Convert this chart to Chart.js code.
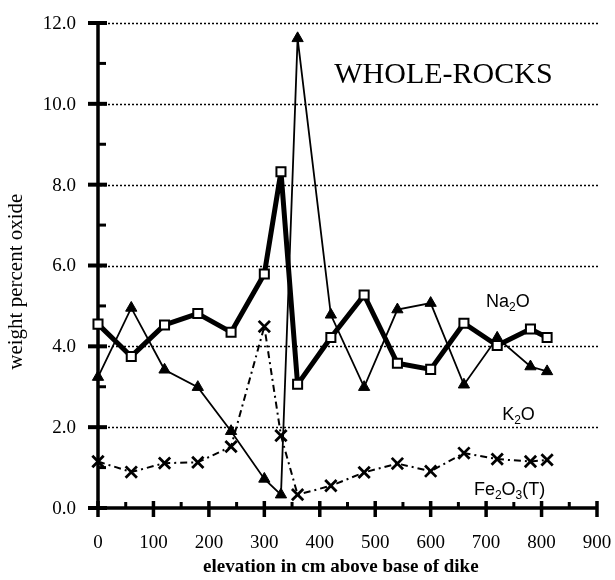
<!DOCTYPE html>
<html>
<head>
<meta charset="utf-8">
<script src="https://cdn.jsdelivr.net/npm/chart.js@4.4.1/dist/chart.umd.min.js"></script>
<style>
  html, body { margin: 0; padding: 0; background: #fff; }
  canvas { display: block; }
</style>
</head>
<body>
<canvas id="wholeRocksChart" width="615" height="580"></canvas>
<script>
// elevation in cm above base of dike
const elevation = [0, 60, 120, 180, 240, 300, 330, 360, 420, 480, 540, 600, 660, 720, 780, 810];
// weight percent oxide
const na2o  = [4.55, 3.75, 4.53, 4.81, 4.35, 5.79, 8.32, 3.06, 4.22, 5.27, 3.58, 3.43, 4.57, 4.02, 4.43, 4.22];
const k2o   = [3.24, 4.95, 3.42, 2.99, 1.90, 0.72, 0.33, 11.62, 4.78, 2.99, 4.91, 5.07, 3.05, 4.21, 3.50, 3.38];
const fe2o3 = [1.15, 0.89, 1.11, 1.13, 1.52, 4.49, 1.79, 0.33, 0.55, 0.88, 1.10, 0.91, 1.36, 1.21, 1.15, 1.19];

const yTicks = [0, 2, 4, 6, 8, 10, 12];
const xTicks = [0, 100, 200, 300, 400, 500, 600, 700, 800, 900];

const SERIF = '"Liberation Serif", "Times New Roman", serif';
const SANS = '"Liberation Sans", Arial, sans-serif';

const points = (vals) => elevation.map((e, i) => ({ x: e, y: vals[i] }));

// axes with ticks crossing the line, dotted grid, tick labels and titles
const axesPlugin = {
    id: 'axesPlugin',
    beforeDatasetsDraw(chart) {
        const ctx = chart.ctx;
        const { x, y } = chart.scales;
        const area = chart.chartArea;
        ctx.save();
        ctx.strokeStyle = '#000';
        ctx.fillStyle = '#000';

        // dotted grid
        ctx.lineWidth = 1.5;
        ctx.setLineDash([2, 2]);
        yTicks.filter(v => v > 0).forEach(v => {
            const py = Math.round(y.getPixelForValue(v)) + 0.5;
            ctx.beginPath();
            ctx.moveTo(area.left + 2, py);
            ctx.lineTo(area.right + 1, py);
            ctx.stroke();
        });
        ctx.setLineDash([]);

        const x0 = x.getPixelForValue(0);
        const y0 = y.getPixelForValue(0);

        // axis lines
        ctx.lineWidth = 3.5;
        ctx.beginPath();
        ctx.moveTo(x0, y.getPixelForValue(12));
        ctx.lineTo(x0, y0);
        ctx.lineTo(x.getPixelForValue(900), y0);
        ctx.stroke();

        // y ticks
        for (let v = 0; v <= 12; v++) {
            const py = y.getPixelForValue(v);
            ctx.beginPath();
            if (v % 2 === 0) {
                ctx.lineWidth = 4;
                ctx.moveTo(x0 - 10, py);
                ctx.lineTo(x0 + 9, py);
            } else {
                ctx.lineWidth = 3;
                ctx.moveTo(x0, py);
                ctx.lineTo(x0 + 8, py);
            }
            ctx.stroke();
        }
        // x ticks
        for (let v = 0; v <= 900; v += 50) {
            const px = x.getPixelForValue(v);
            ctx.beginPath();
            if (v % 100 === 0) {
                ctx.lineWidth = 3.5;
                ctx.moveTo(px, y0 - 7);
                ctx.lineTo(px, y0 + 9);
            } else {
                ctx.lineWidth = 3;
                ctx.moveTo(px, y0 - 6);
                ctx.lineTo(px, y0);
            }
            ctx.stroke();
        }

        // tick labels
        ctx.font = '19px ' + SERIF;
        ctx.textAlign = 'right';
        ctx.textBaseline = 'middle';
        yTicks.forEach(v => {
            ctx.fillText(v.toFixed(1), x0 - 22, y.getPixelForValue(v) + 1);
        });
        ctx.textAlign = 'center';
        xTicks.forEach(v => {
            ctx.fillText(String(v), x.getPixelForValue(v), y0 + 35);
        });

        // axis titles
        ctx.font = 'bold 19px ' + SERIF;
        ctx.fillText('elevation in cm above base of dike', x.getPixelForValue(438), y0 + 59);

        ctx.save();
        ctx.translate(16, y.getPixelForValue(5.6));
        ctx.rotate(-Math.PI / 2);
        ctx.font = '21px ' + SERIF;
        ctx.fillText('weight percent oxide', 0, 0);
        ctx.restore();

        ctx.restore();
    },

    afterDatasetsDraw(chart) {
        const ctx = chart.ctx;
        const { x, y } = chart.scales;
        ctx.save();
        ctx.fillStyle = '#000';

        ctx.font = '30px ' + SERIF;
        ctx.textAlign = 'center';
        ctx.textBaseline = 'alphabetic';
        ctx.fillText('WHOLE-ROCKS', x.getPixelForValue(623), y.getPixelForValue(10.52));

        const drawChem = (parts, xv, yv, clearBg) => {
            const big = '18px ' + SANS;
            const small = '12px ' + SANS;
            ctx.textAlign = 'left';
            ctx.textBaseline = 'alphabetic';
            let px = x.getPixelForValue(xv);
            const base = y.getPixelForValue(yv);
            let total = 0;
            parts.forEach(([t, sub]) => {
                ctx.font = sub ? small : big;
                total += ctx.measureText(t).width;
            });
            if (clearBg) {
                ctx.fillStyle = '#fff';
                ctx.fillRect(px - 6, base - 16, total + 20, 22);
                ctx.fillStyle = '#000';
            }
            parts.forEach(([t, sub]) => {
                ctx.font = sub ? small : big;
                ctx.fillText(t, px, sub ? base + 4 : base);
                px += ctx.measureText(t).width;
            });
        };

        drawChem([['Na', 0], ['2', 1], ['O', 0]], 700, 4.98, false);
        drawChem([['K', 0], ['2', 1], ['O', 0]], 729, 2.18, true);
        drawChem([['Fe', 0], ['2', 1], ['O', 0], ['3', 1], ['(T)', 0]], 678, 0.33, false);
        ctx.restore();
    }
};

const chart = new Chart(document.getElementById('wholeRocksChart'), {
    type: 'line',
    data: {
        datasets: [
            {
                label: 'Na2O',
                data: points(na2o),
                borderColor: '#000',
                borderWidth: 5,
                borderJoinStyle: 'round',
                pointStyle: 'rect',
                pointRadius: 6.4,
                pointBackgroundColor: '#fff',
                pointBorderColor: '#000',
                pointBorderWidth: 2,
                tension: 0,
                clip: false
            },
            {
                label: 'K2O',
                data: points(k2o),
                borderColor: '#000',
                borderWidth: 1.8,
                pointStyle: 'triangle',
                pointRadius: 6.5,
                pointBackgroundColor: '#000',
                pointBorderColor: '#000',
                pointBorderWidth: 1,
                tension: 0,
                clip: false
            },
            {
                label: 'Fe2O3(T)',
                data: points(fe2o3),
                borderColor: '#000',
                borderWidth: 2,
                borderDash: [7, 4, 2, 4],
                pointStyle: 'crossRot',
                pointRadius: 8,
                pointBorderColor: '#000',
                pointBorderWidth: 2.8,
                tension: 0,
                clip: false
            }
        ]
    },
    options: {
        responsive: false,
        animation: false,
        layout: { padding: { top: 23, right: 18, left: 98, bottom: 72 } },
        plugins: { legend: { display: false }, tooltip: { enabled: false } },
        scales: {
            x: { type: 'linear', min: 0, max: 900, display: false },
            y: { min: 0, max: 12, display: false }
        }
    },
    plugins: [axesPlugin]
});
</script>
</body>
</html>
